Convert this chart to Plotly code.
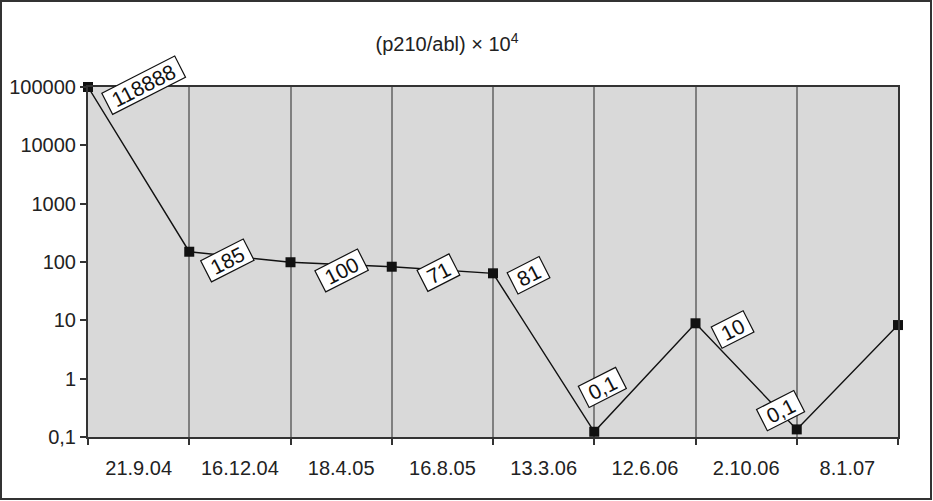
import math
import plotly.graph_objects as go

# Data
dates = ["21.9.04", "16.12.04", "18.4.05", "16.8.05", "13.3.06", "12.6.06", "2.10.06", "8.1.07"]
point_pos = [0, 1, 2, 3, 4, 5, 6, 7, 8]
values = [100000, 150, 99, 83, 64, 0.123, 8.9, 0.135, 8.3]
label_text = ["118888", "185", "100", "71", "81", "0,1", "10", "0,1"]
ytick_vals = [0.1, 1, 10, 100, 1000, 10000, 100000]
ytick_text = ["0,1", "1", "10", "100", "1000", "10000", "100000"]

# label offsets (pixels) from their data point
label_dx = [55, 38, 51, 47, 35, 8, 37, -16]
label_dy = [2, -9, -8, -6, -2, 44, -6, 19]

FONT = "Liberation Sans, Arial, sans-serif"
TXT = "#222222"
NB = "\u00a0"

fig = go.Figure()
fig.add_trace(go.Scatter(
    x=point_pos, y=values, mode="lines+markers",
    line=dict(color="#111111", width=1.4),
    marker=dict(symbol="square", size=10, color="#111111"),
    cliponaxis=False, showlegend=False, hoverinfo="skip",
))

for i, t in enumerate(label_text):
    fig.add_annotation(
        x=point_pos[i], y=math.log10(values[i]), xref="x", yref="y",
        text=NB + t + NB, showarrow=False, textangle=-27,
        xshift=label_dx[i], yshift=label_dy[i],
        font=dict(family=FONT, size=21, color="#111111"),
        bgcolor="white", bordercolor="#111111", borderwidth=1.2, borderpad=0,
    )

# Outer frame
l, r, t, b = 88, 35, 87, 64
W, H = 933, 501
pw, ph = W - l - r, H - t - b
fig.add_shape(type="rect", xref="paper", yref="paper",
              x0=(1 - l) / pw, x1=(931 - l) / pw,
              y0=(H - b - 499) / ph, y1=(H - b - 1) / ph,
              line=dict(color="#333333", width=2), layer="above")

fig.update_layout(
    width=W, height=H,
    margin=dict(l=l, r=r, t=t, b=b, autoexpand=False),
    paper_bgcolor="white", plot_bgcolor="#d9d9d9",
    font=dict(family=FONT, size=20, color=TXT),
    title=dict(text="(p210/abl) × 10<sup>4</sup>", x=447 / W, xref="container", xanchor="center",
               y=1 - 44 / H, yref="container", yanchor="middle",
               font=dict(family=FONT, size=20, color=TXT)),
    xaxis=dict(
        range=[0, 8], tickmode="array", tickvals=[i + 0.5 for i in range(8)], ticktext=dates,
        ticks="", showgrid=False, zeroline=False,
        showline=True, linecolor="#333333", linewidth=2, mirror=True,
        ticklabelstandoff=12, automargin=False,
        minor=dict(tick0=0, dtick=1, ticks="outside", ticklen=6, tickcolor="#333333", tickwidth=1.5,
                   showgrid=True, gridcolor="#808080", gridwidth=1.5),
    ),
    yaxis=dict(
        type="log", range=[-1, 5], tickmode="array", tickvals=ytick_vals, ticktext=ytick_text,
        ticks="outside", ticklen=6, tickcolor="#333333", tickwidth=1.5,
        showgrid=False, zeroline=False, automargin=False,
        showline=True, linecolor="#333333", linewidth=2, mirror=True,
        ticklabelstandoff=0,
    ),
)

fig.write_html("out.html", config={"displayModeBar": False},
               post_script="document.body.style.margin='0';document.body.style.overflow='hidden';")
